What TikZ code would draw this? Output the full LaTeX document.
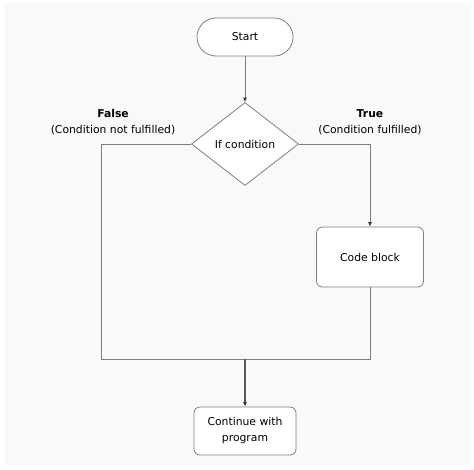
\documentclass[tikz,border=0pt]{standalone}
\usepackage{fontspec}
\setmainfont{DejaVu Sans}
\usepackage{tikz}
\usetikzlibrary{shapes.geometric, arrows.meta, positioning, calc}
\usepackage{xcolor}
\definecolor{edgegray}{HTML}{7F7F7F}
\definecolor{bggray}{HTML}{F9F9F9}

\begin{document}
\begin{tikzpicture}[
    x=1pt, y=-1pt,
    font=\fontsize{10.8}{16}\selectfont,
    terminal/.style={rectangle, draw=edgegray, fill=white, rounded corners=19pt, minimum height=38pt, minimum width=96pt, line width=0.8pt},
    decision/.style={diamond, draw=edgegray, fill=white, inner sep=0pt, minimum width=107pt, minimum height=83pt, line width=0.8pt},
    block/.style={rectangle, draw=edgegray, fill=white, rounded corners=6pt, align=center, line width=0.8pt},
    line/.style={draw=edgegray, line width=0.8pt},
    arrow/.style={line, -{Latex[length=4.5pt, width=4pt, color=black!80]}},
]

% Canvas
\useasboundingbox (0,0) rectangle (474,469);
\fill[bggray] (5,3) rectangle (471,465);

% Nodes
\node[terminal] (start) at (245,37) {Start};
\node[decision] (cond) at (245,144) {If condition};
\node[block, minimum width=107pt, minimum height=60pt] (code) at (370,257) {Code block};
\node[block, minimum width=102pt, minimum height=48pt, inner sep=2pt] (cont) at (245,431) {Continue with\\program};

% Branch labels
\node[align=center] (lblF) at (113,122) {\textbf{False}\\(Condition not fulfilled)};
\node[align=center] (lblT) at (370,122) {\textbf{True}\\(Condition fulfilled)};

% Join points
\coordinate (joinL) at (101,359);
\coordinate (join) at (245,359);

% Edges
\draw[arrow] (start) -- (cond);
\draw[arrow] (cond.east) -| (code.north);
\draw[line] (cond.west) -| (joinL) -- (join);
\draw[line] (code.south) |- (join);
\draw[arrow, line width=1.2pt, draw=edgegray!70!black] (join) -- (cont);

\end{tikzpicture}
\end{document}
